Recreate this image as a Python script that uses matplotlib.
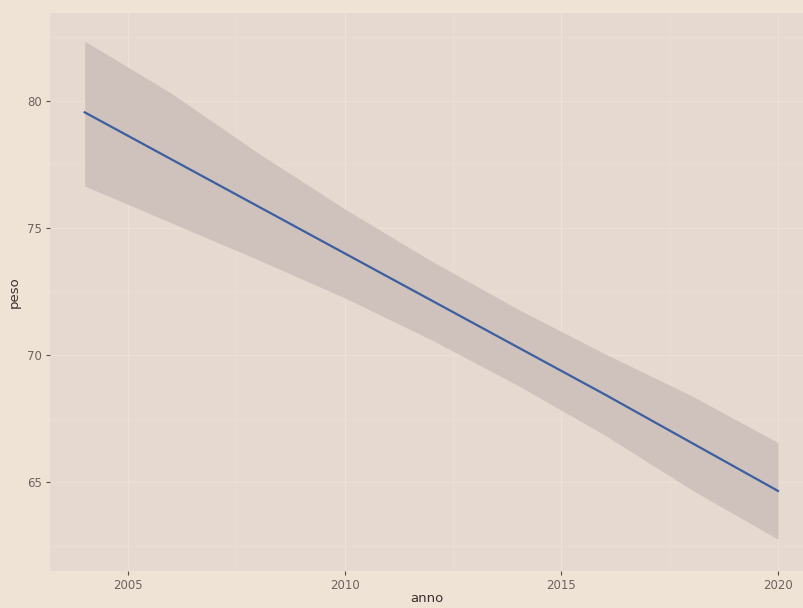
import numpy as np
import matplotlib.pyplot as plt

anni = [2004, 2006, 2008, 2010, 2012, 2014, 2016, 2018, 2020]
fit = [79.55, 77.7, 75.85, 74.0, 72.15, 70.3, 68.45, 66.55, 64.65]
upper = [82.35, 80.3, 77.95, 75.75, 73.7, 71.8, 70.05, 68.4, 66.55]
lower = [76.65, 75.2, 73.75, 72.25, 70.6, 68.8, 66.85, 64.7, 62.75]

x_ticks = [2005, 2010, 2015, 2020]
y_ticks = [65, 70, 75, 80]

bg = '#efe3d6'
panel = '#e6d9cf'
grid = '#ebe1d7'

fig = plt.figure(figsize=(8.04, 6.08), dpi=100, facecolor=bg)
ax = fig.add_axes([0.0622, 0.0609, 0.9378, 0.9178])
ax.set_facecolor(panel)

ax.fill_between(anni, lower, upper, color='#cfc1bc', linewidth=0, zorder=2)
ax.plot(anni, fit, color='#3b5fa0', linewidth=1.6, zorder=3)

ax.set_xlim(2003.2, 2020.6)
ax.set_ylim(61.5, 83.46)
ax.set_xticks(x_ticks)
ax.set_yticks(y_ticks)
ax.set_xticks([2007.5, 2012.5, 2017.5], minor=True)
ax.set_yticks([62.5, 67.5, 72.5, 77.5, 82.5], minor=True)
ax.grid(which='major', color=grid, linewidth=1.0, zorder=1)
ax.grid(which='minor', color=grid, linewidth=0.5, zorder=1)
ax.set_axisbelow(True)

for s in ax.spines.values():
    s.set_visible(False)

ax.tick_params(which='major', length=3, width=0.8, color='#5a4e4c',
               labelsize=8.5, labelcolor='#6e6260', pad=3)
ax.tick_params(which='minor', length=0)

ax.set_xlabel('anno', fontsize=9.5, color='#3a302e', labelpad=0)
ax.set_ylabel('peso', fontsize=9.5, color='#3a302e', labelpad=4)

fig.savefig('out.png', dpi=100, facecolor=bg)
